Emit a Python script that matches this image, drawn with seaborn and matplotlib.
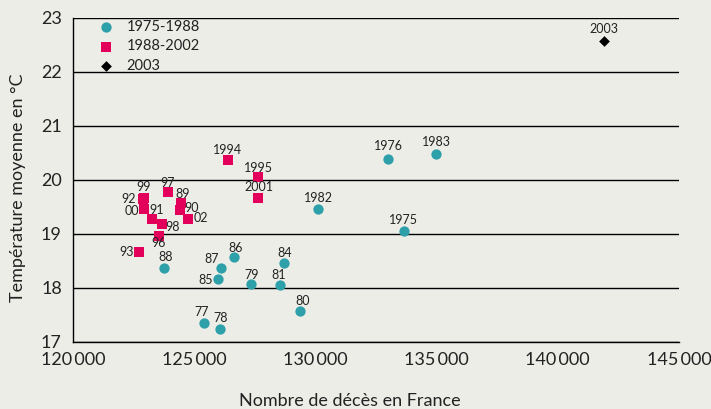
import matplotlib
matplotlib.use("Agg")
import matplotlib.pyplot as plt
import seaborn as sns
import pandas as pd
from matplotlib.ticker import FuncFormatter, FixedLocator

# ---- data ----
periods = ["1975-1988", "1988-2002", "2003"]

labels_a = ["1975", "1976", "77", "78", "79", "80", "81", "1982", "1983", "84", "85", "86", "87", "88"]
deaths_a = [133670, 133000, 125390, 126050, 127330, 129370, 128550, 130120, 134990, 128720, 126000, 126630, 126110, 123770]
temp_a = [19.06, 20.39, 17.35, 17.25, 18.07, 17.57, 18.06, 19.46, 20.48, 18.46, 18.16, 18.58, 18.37, 18.37]

labels_b = ["89", "90", "91", "92", "93", "1994", "1995", "96", "97", "98", "99", "00", "2001", "02"]
deaths_b = [124470, 124400, 123250, 122880, 122710, 126380, 127650, 123530, 123900, 123660, 122920, 122920, 127620, 124730]
temp_b = [19.57, 19.44, 19.27, 19.64, 18.66, 20.37, 20.06, 18.96, 19.77, 19.18, 19.66, 19.47, 19.66, 19.27]

labels_c = ["2003"]
deaths_c = [141910]
temp_c = [22.57]

x_ticks = [120000, 125000, 130000, 135000, 140000, 145000]
y_ticks = [17, 18, 19, 20, 21, 22, 23]

# ---- layout (label offsets in pixels: dx right, dy up) ----
label_offsets = {
    "1975": (-1, 11), "1976": (0, 13), "77": (-2, 11), "78": (1, 10), "79": (1, 9),
    "80": (2, 10), "81": (-2, 10), "1982": (0, 11), "1983": (0, 12), "84": (0, 10),
    "85": (-13, -1), "86": (2, 9), "87": (-9, 9), "88": (1, 11),
    "89": (1, 9), "90": (12, 2), "91": (5, 9), "92": (-14, 0), "93": (-12, 0),
    "1994": (0, 10), "1995": (0, 9), "96": (0, -7), "97": (0, 9), "98": (11, -3),
    "99": (0, 11), "00": (-12, -2), "2001": (1, 11), "02": (13, 1), "2003": (0, 12),
}

BG = "#EDEDE8"
TEAL = "#2EA0AA"
RED = "#E2005A"
TXT = "#222222"

sns.set_style("white")
plt.rcParams["font.family"] = ["Lato", "DejaVu Sans"]

df = pd.concat([
    pd.DataFrame({"deaths": deaths_a, "temp": temp_a, "label": labels_a, "period": periods[0]}),
    pd.DataFrame({"deaths": deaths_b, "temp": temp_b, "label": labels_b, "period": periods[1]}),
    pd.DataFrame({"deaths": deaths_c, "temp": temp_c, "label": labels_c, "period": periods[2]}),
], ignore_index=True)

fig = plt.figure(figsize=(7.11, 4.09), dpi=100, facecolor=BG)
ax = fig.add_axes([73 / 711, 1 - 342 / 409, 606 / 711, 324 / 409])
ax.set_facecolor(BG)

styles = {
    periods[0]: dict(marker="o", color=TEAL, s=55),
    periods[1]: dict(marker="s", color=RED, s=48),
    periods[2]: dict(marker="D", color="black", s=30),
}
for p in periods:
    sub = df[df["period"] == p]
    st = styles[p]
    sns.scatterplot(data=sub, x="deaths", y="temp", ax=ax, marker=st["marker"],
                    color=st["color"], s=st["s"], linewidth=0, label=p, zorder=3)

for _, r in df.iterrows():
    dx, dy = label_offsets[r["label"]]
    ax.annotate(r["label"], (r["deaths"], r["temp"]), xytext=(dx, dy),
                textcoords="offset pixels", ha="center", va="center",
                fontsize=9, color=TXT, zorder=4)

ax.set_xlim(120000, 145000)
ax.set_ylim(17, 23)
ax.xaxis.set_major_locator(FixedLocator(x_ticks))
ax.yaxis.set_major_locator(FixedLocator(y_ticks))
ax.xaxis.set_major_formatter(FuncFormatter(lambda v, _: f"{int(v):,}".replace(",", "\u2009")))
ax.yaxis.set_major_formatter(FuncFormatter(lambda v, _: f"{int(v)}"))

ax.yaxis.grid(True, color="black", linewidth=1.0)
ax.set_axisbelow(True)
for s in ["top", "right"]:
    ax.spines[s].set_visible(False)
for s in ["left", "bottom"]:
    ax.spines[s].set_color("black")
    ax.spines[s].set_linewidth(1.0)

ax.tick_params(axis="both", direction="out", colors="black", labelcolor=TXT, labelsize=13,
               width=1.0)
ax.tick_params(axis="x", length=4, pad=3)
ax.tick_params(axis="y", length=5, pad=3)

ax.set_xlabel("Nombre de décès en France", fontsize=13, color=TXT)
ax.xaxis.set_label_coords((350 - 73) / 606, (342 - 393) / 324)
ax.set_ylabel("Température moyenne en °C", fontsize=13, color=TXT)
ax.yaxis.set_label_coords((26 - 73) / 606, (342 - 188) / 324)

leg = ax.legend(loc="upper left", bbox_to_anchor=(0.043, 0.994), frameon=False,
                fontsize=10.5, handlelength=1.0, handletextpad=0.9, labelspacing=0.38,
                borderaxespad=0.0, borderpad=0.0, markerscale=1.0)
for t in leg.get_texts():
    t.set_color(TXT)

fig.savefig("out.png", dpi=100, facecolor=BG)
